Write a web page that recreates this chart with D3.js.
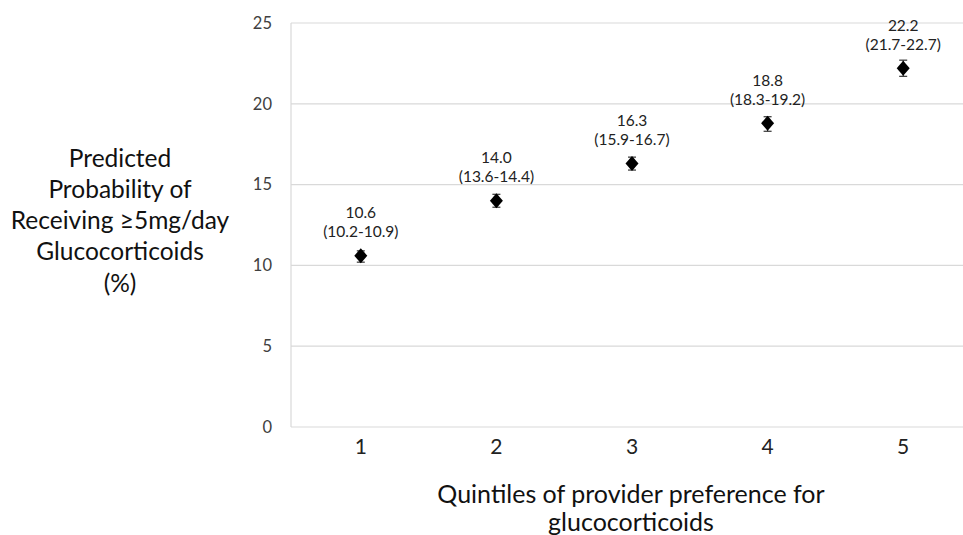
<!DOCTYPE html>
<html><head><meta charset="utf-8">
<script src="https://cdn.jsdelivr.net/npm/d3@7"></script>
<style>body{margin:0;background:#fff}svg{display:block}text{font-family:Lato,"Open Sans",sans-serif}</style>
</head><body>
<svg id="c" width="963" height="535"></svg>
<script>
const categories = ["1","2","3","4","5"];
const values = [10.6, 14.0, 16.3, 18.8, 22.2];
const lower = [10.2, 13.6, 15.9, 18.3, 21.7];
const upper = [10.9, 14.4, 16.7, 19.2, 22.7];
const yTicks = [0,5,10,15,20,25];
const yTitle = ["Predicted","Probability of","Receiving \u22655mg/day","Glucocorticoids","(%)"];
const xTitle = ["Quintiles of provider preference for","glucocorticoids"];

(function(){
const svg = d3.select("#c");
const pl = 291, pr = 971, pt = 23, pb = 427;
const x = d3.scaleBand().domain(categories).range([pl + 2, pr]);
const y = d3.scaleLinear().domain([0,25]).range([pb, pt]);

svg.append("g").selectAll("line").data(yTicks).join("line")
  .attr("x1", pl).attr("x2", 963).attr("y1", d=>y(d)).attr("y2", d=>y(d))
  .attr("stroke", "#d9d9d9").attr("stroke-width", 1.2);
svg.append("line").attr("x1", pl).attr("x2", pl).attr("y1", pt).attr("y2", pb)
  .attr("stroke", "#d9d9d9").attr("stroke-width", 1.2);

svg.append("g").selectAll("text").data(yTicks).join("text")
  .attr("x", 272).attr("y", d=>y(d)).attr("dy","0.35em").attr("text-anchor","end")
  .attr("font-size", 16.5).attr("fill","#404040").text(d=>d);

svg.append("g").selectAll("text").data(categories).join("text")
  .attr("x", d=>x(d)+x.bandwidth()/2).attr("y", 447).attr("dy","0.35em").attr("text-anchor","middle")
  .attr("font-size", 21).attr("fill","#222").text(d=>d);

const eb = svg.append("g").attr("stroke","#333").attr("stroke-width",1.2);
categories.forEach((c,i)=>{
  const cx = x(c)+x.bandwidth()/2;
  eb.append("line").attr("x1",cx).attr("x2",cx).attr("y1",y(lower[i])).attr("y2",y(upper[i]));
  eb.append("line").attr("x1",cx-4).attr("x2",cx+4).attr("y1",y(lower[i])).attr("y2",y(lower[i]));
  eb.append("line").attr("x1",cx-4).attr("x2",cx+4).attr("y1",y(upper[i])).attr("y2",y(upper[i]));
});

svg.append("g").selectAll("path").data(values).join("path")
  .attr("transform",(d,i)=>`translate(${x(categories[i])+x.bandwidth()/2},${y(d)})`)
  .attr("d","M0,-7.5L6.5,0L0,7.5L-6.5,0Z").attr("fill","#000");

const lab = svg.append("g").attr("text-anchor","middle").attr("font-size",15.5).attr("fill","#222");
values.forEach((v,i)=>{
  const cx = x(categories[i])+x.bandwidth()/2;
  lab.append("text").attr("x",cx).attr("y",y(v)-43).attr("dy","0.35em").text(v.toFixed(1));
  lab.append("text").attr("x",cx).attr("y",y(v)-24).attr("dy","0.35em").text(`(${lower[i].toFixed(1)}-${upper[i].toFixed(1)})`);
});

svg.append("g").selectAll("text").data(yTitle).join("text")
  .attr("x",120).attr("y",(d,i)=>158+i*31.3).attr("dy","0.35em").attr("text-anchor","middle")
  .attr("font-size",24.5).attr("fill","#111").text(d=>d);

svg.append("g").selectAll("text").data(xTitle).join("text")
  .attr("x",631).attr("y",(d,i)=>494+i*28).attr("dy","0.35em").attr("text-anchor","middle")
  .attr("font-size",25).attr("fill","#111").text(d=>d);
})();
</script>
</body></html>
